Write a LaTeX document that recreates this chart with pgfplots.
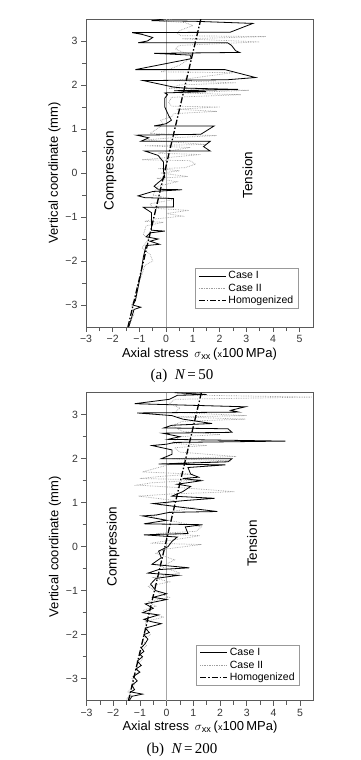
\documentclass[border=0pt]{standalone}
\usepackage{pgfplots}
\pgfplotsset{compat=1.18}
\usepackage{fontspec}
\setmainfont{Liberation Sans}
\newfontfamily\capfont{Liberation Serif}
\definecolor{axisgray}{RGB}{90,90,90}
\pgfplotsset{
  panel/.style={
    scale only axis, width=227pt, height=308pt,
    xmin=-3, xmax=5.5, ymin=-3.5, ymax=3.5,
    xtick={-3,-2,-1,0,1,2,3,4,5},
    xticklabels={−3,−2,−1,0,1,2,3,4,5},
    ytick={-3,-2,-1,0,1,2,3},
    yticklabels={−3,−2,−1,0,1,2,3},
    minor x tick num=1, minor y tick num=1,
    tick align=outside, tick pos=left,
    major tick length=5pt, minor tick length=4pt,
    axis line style={axisgray, line width=0.7pt},
    every tick/.style={axisgray, line width=0.6pt},
    tick label style={font=\fontsize{10.5}{12}\selectfont, text=axisgray!60!black},
    label style={font=\fontsize{13}{15}\selectfont},
    xlabel={Axial stress \,$\sigma$\textsubscript{xx}\,({\fontsize{9}{10}\selectfont x}100\,MPa)},
    ylabel={Vertical coordinate (mm)},
    xlabel style={yshift=2pt},
    ylabel style={yshift=-2pt},
    legend style={draw=gray!80, font=\fontsize{10.5}{12}\selectfont,
      inner xsep=3pt, inner ysep=1pt, row sep=-0.5pt, cells={anchor=west}},
    legend image code/.code={\draw[#1] (0pt,0pt) -- (27pt,0pt);},
    clip=true,
  },
  case1/.style={black, line width=0.8pt},
  case2/.style={gray!75, densely dotted, line width=0.7pt},
  homog/.style={black, line width=1.3pt, dash pattern=on 6pt off 2pt on 1.5pt off 2pt},
}
\begin{document}
\begin{tikzpicture}
\useasboundingbox (0,0) rectangle (361pt,-760pt);
% ---------------- (a) N=50 ----------------
\begin{axis}[panel, at={(86pt,-327pt)}, anchor=south west,
  legend style={at={(0.936,0.06)}, anchor=south east}]
\addplot[gray!70, line width=0.5pt, forget plot] coordinates {(0,-3.5) (0,3.5)};
\addplot[case2, forget plot] coordinates {
(0.2,3.5) (-0.05,3.45) (0.7,3.42) (1.0,3.35) (0.55,3.25) (0.4,3.18) (0.55,3.12)
(3.75,3.1) (0.6,3.05) (3.5,2.98) (0.5,2.9) (0.35,2.82) (0.6,2.75) (0.95,2.7)
(0.9,2.6) (0.5,2.45) (0.1,2.35) (-0.2,2.3) (2.5,2.28) (1.5,2.2) (0.3,2.1)
(2.6,2.05) (0.5,2.0) (0.1,1.92) (3.1,1.88) (0.5,1.82) (2.8,1.78) (0.2,1.72)
(0.1,1.6) (0.2,1.52) (2.0,1.5) (0.4,1.45) (1.9,1.40) (0.3,1.35) (0.2,1.28)
(-0.2,1.2) (-0.1,1.1) (-0.6,0.9) (1.9,0.85) (0.2,0.8) (-0.8,0.75) (1.5,0.65)
(-0.8,0.62) (0.9,0.58) (0.1,0.5) (-0.3,0.45) (1.3,0.42) (0.2,0.36) (-0.9,0.3)
(0.9,0.28) (1.1,0.2) (0.7,0.12) (-0.3,0.1) (0.5,0.05) (-0.2,0.0) (0.8,-0.08)
(-0.35,-0.12) (0.4,-0.2) (-0.3,-0.3) (-0.5,-0.5) (0.3,-0.6) (-0.6,-0.7)
(-0.5,-0.8) (0.85,-0.85) (0.0,-0.92) (0.6,-0.98) (-0.5,-1.05) (-0.8,-1.1)
(-0.1,-1.12) (-0.75,-1.2) (-0.85,-1.4) (-0.65,-1.5) (-0.9,-1.7) (-0.6,-1.85)
(-0.5,-2.0) (-0.8,-2.1) (-0.9,-2.3) (-1.1,-2.6) (-1.1,-2.8) (-1.3,-3.0)
(-1.2,-3.2) (-1.4,-3.5)};
\addplot[case1] coordinates {
(-0.1,3.5) (-0.55,3.46) (1.0,3.45) (3.25,3.40) (2.4,3.20) (-1.27,3.19)
(-0.9,3.15) (-0.5,3.08) (-0.7,3.0) (-1.05,2.96) (2.3,2.96) (2.45,2.9)
(2.6,2.78) (2.75,2.74) (-0.45,2.72) (0.9,2.68) (0.95,2.6) (-1.15,2.35)
(2.2,2.35) (3.35,2.17) (2.3,2.12) (-0.85,2.1) (0.3,1.95) (0.7,1.93)
(2.7,1.9) (0.3,1.87) (1.5,1.85) (-0.05,1.82) (0.05,1.78) (-0.05,1.70)
(-0.05,1.5) (0.1,1.3) (0.2,1.2) (0.0,1.12) (-0.45,1.07) (1.8,1.07)
(1.3,0.88) (-1.1,0.86) (-0.65,0.8) (-0.95,0.72) (1.65,0.72) (1.4,0.6)
(1.65,0.5) (-0.8,0.5) (-0.3,0.4) (-0.1,0.25) (-0.1,0.05) (-0.05,-0.1)
(-0.3,-0.22) (-0.45,-0.3) (-0.3,-0.37) (0.6,-0.38) (-0.5,-0.42)
(-1.05,-0.52) (-0.8,-0.56) (0.28,-0.58) (0.28,-0.77) (-0.85,-0.78)
(-0.55,-0.9) (-0.55,-1.3) (-0.05,-1.32) (-0.6,-1.36) (-0.75,-1.45)
(-0.3,-1.5) (-0.6,-1.55) (-0.25,-1.62) (-0.75,-1.65) (-0.85,-1.9)
(-0.95,-2.3) (-1.05,-2.6) (-1.15,-2.9) (-1.25,-3.0) (-0.95,-3.05)
(-1.2,-3.1) (-1.3,-3.3) (-1.4,-3.5)};
\addlegendentry{Case I}
\addlegendimage{case2}
\addlegendentry{Case II}
\addplot[homog] coordinates {(-1.43,-3.5) (1.3,3.5)};
\addlegendentry{Homogenized}
\node[rotate=90, font=\fontsize{13.5}{15}\selectfont] at (axis cs:-2.1,0.05) {Compression};
\node[rotate=90, font=\fontsize{13.5}{15}\selectfont] at (axis cs:3.05,-0.05) {Tension};
\end{axis}
\node[font=\capfont\fontsize{15}{17}\selectfont] at (182pt,-376pt) {(a)\ \ {\itshape N}\,=\,50};
% ---------------- (b) N=200 ----------------
\begin{axis}[panel, at={(86.5pt,-700.7pt)}, anchor=south west,
  legend style={at={(0.94,0.05)}, anchor=south east}]
\addplot[gray!70, line width=0.5pt, forget plot] coordinates {(0,-3.5) (0,3.5)};
\addplot[case2, forget plot] coordinates {
(1.2,3.5) (0.6,3.45) (5.45,3.4) (0.3,3.35) (0.1,3.25) (0.5,3.15) (0.3,3.05)
(3.0,2.98) (0.4,2.95) (2.95,2.9) (0.6,2.85) (0.2,2.75) (0.6,2.62) (2.0,2.55)
(0.5,2.5) (0.2,2.35) (1.5,2.3) (0.3,2.25) (0.5,2.15) (2.6,2.05) (0.2,2.0)
(2.4,1.95) (0.3,1.9) (-0.3,1.8) (-0.9,1.7) (1.0,1.65) (-0.2,1.6) (-1.0,1.55)
(1.3,1.52) (-0.6,1.45) (-1.1,1.4) (0.8,1.33) (2.55,1.25) (0.2,1.2) (-1.05,1.15)
(0.3,1.05) (-0.2,0.95) (1.0,0.88) (0.2,0.8) (-0.6,0.68) (0.5,0.55) (1.3,0.45)
(1.1,0.35) (-0.4,0.3) (1.25,0.25) (0.2,0.15) (-0.6,0.08) (1.3,0.05) (0.0,-0.05)
(-0.4,-0.15) (0.3,-0.3) (-0.2,-0.45) (0.5,-0.6) (-0.5,-0.7) (0.1,-0.8)
(-0.7,-0.9) (-0.3,-1.05) (0.1,-1.15) (-0.7,-1.25) (-0.4,-1.35) (-0.9,-1.45)
(-0.1,-1.6) (-0.8,-1.7) (-0.7,-1.9) (-0.6,-2.0) (-0.9,-2.1) (-0.75,-2.25)
(-1.0,-2.4) (-0.9,-2.55) (-1.15,-2.7) (-1.05,-2.85) (-1.3,-3.0) (-1.2,-3.15)
(-1.45,-3.3) (-1.3,-3.38) (-1.5,-3.45) (-1.45,-3.5)};
\addplot[case1] coordinates {
(0.3,3.5) (1.5,3.46) (0.4,3.44) (0.1,3.35) (-1.2,3.25) (2.95,3.18) (2.4,3.1)
(2.7,3.06) (-1.1,3.04) (0.2,2.98) (0.6,2.9) (1.7,2.8) (0.2,2.76) (-0.1,2.7)
(2.3,2.68) (2.45,2.6) (-0.15,2.58) (0.5,2.5) (0.05,2.44) (4.45,2.4) (0.3,2.37)
(0.0,2.33) (-0.55,2.3) (0.2,2.2) (0.2,2.1) (-0.2,2.0) (2.45,2.0) (2.3,1.93)
(-0.3,1.88) (2.2,1.86) (0.8,1.8) (0.9,1.65) (1.2,1.58) (0.6,1.55) (1.3,1.5)
(0.4,1.42) (0.9,1.37) (0.6,1.25) (0.2,1.15) (1.8,1.1) (0.7,1.05) (-0.5,0.98)
(0.5,0.9) (1.9,0.8) (0.1,0.78) (-0.4,0.72) (-0.9,0.7) (0.0,0.6) (-0.85,0.52)
(1.35,0.5) (0.7,0.45) (0.8,0.3) (-0.85,0.27) (0.4,0.22) (0.2,0.12) (0.05,0.0)
(-0.3,-0.1) (-0.2,-0.25) (-0.55,-0.4) (0.85,-0.48) (-0.3,-0.52) (-0.7,-0.6)
(0.45,-0.65) (-0.4,-0.72) (-0.6,-0.85) (-0.4,-1.0) (0.0,-1.07) (-0.5,-1.15)
(0.0,-1.2) (-0.8,-1.3) (-0.5,-1.4) (-0.9,-1.5) (-0.3,-1.55) (-0.85,-1.65)
(-0.6,-1.7) (-0.2,-1.75) (-0.8,-1.85) (-0.65,-1.95) (-0.85,-2.0) (-0.7,-2.1)
(-0.8,-2.2) (-0.95,-2.3) (-0.85,-2.38) (-1.0,-2.45) (-0.9,-2.5) (-1.1,-2.6)
(-0.95,-2.7) (-1.15,-2.78) (-1.0,-2.85) (-1.25,-2.95) (-1.1,-3.05)
(-1.3,-3.15) (-1.2,-3.25) (-1.35,-3.3) (-0.9,-3.35) (-1.3,-3.4) (-1.4,-3.5)};
\addlegendentry{Case I}
\addlegendimage{case2}
\addlegendentry{Case II}
\addplot[homog] coordinates {(-1.43,-3.5) (1.3,3.5)};
\addlegendentry{Homogenized}
\node[rotate=90, font=\fontsize{13.5}{15}\selectfont] at (axis cs:-2.0,0.0) {Compression};
\node[rotate=90, font=\fontsize{13.5}{15}\selectfont] at (axis cs:3.2,0.07) {Tension};
\end{axis}
\node[font=\capfont\fontsize{15}{17}\selectfont] at (182pt,-750pt) {(b)\ \ {\itshape N}\,=\,200};
\end{tikzpicture}
\end{document}
